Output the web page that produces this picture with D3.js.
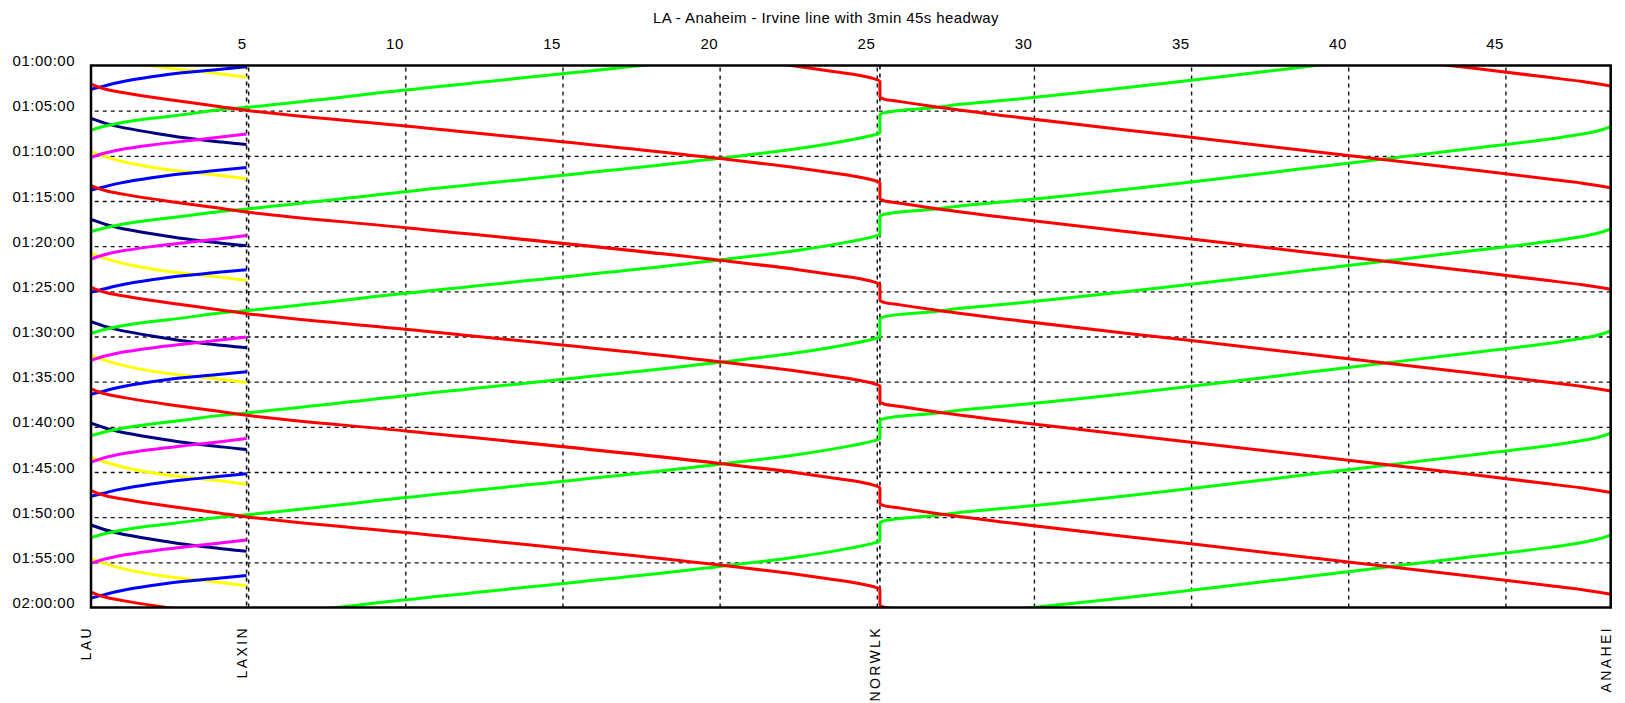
<!DOCTYPE html>
<html><head><meta charset="utf-8">
<script src="https://cdn.jsdelivr.net/npm/d3@7"></script>
<style>
html,body{margin:0;padding:0;background:#fff;}
svg{display:block;font-family:"Liberation Sans",Arial,sans-serif;}
</style></head><body>
<svg id="chart" width="1625" height="703"></svg>
<script>
// ---------------- data ----------------
const chartTitle = "LA - Anaheim - Irvine line with 3min 45s headway";
const stationNames = ["LAU", "LAXIN", "NORWLK", "ANAHEI"];
const stationKm = [0, 4.95, 25.1, 48.35];
const kmTicks = [5, 10, 15, 20, 25, 30, 35, 40, 45];
const timeTickLabels = ["01:00:00","01:05:00","01:10:00","01:15:00","01:20:00","01:25:00",
  "01:30:00","01:35:00","01:40:00","01:45:00","01:50:00","01:55:00","02:00:00"];

// Red: LAU -> ANAHEI (km, minutes after LAU departure)
const redKm  = [0, 0.5, 1.2, 2.5, 4.0, 4.95, 10, 20, 22.5, 23.5, 24.2, 24.9, 25.1, 25.1, 25.25, 25.75, 26.8, 28.9, 35, 40, 44.2, 46.3, 47.4, 48.35];
const redMin = [0, 0.6, 1.05, 1.75, 2.45, 2.92, 4.65, 8.25, 9.3, 9.8, 10.15, 10.65, 10.95, 12.65, 12.95, 13.2, 13.75, 14.7, 17.15, 19.16, 20.85, 21.73, 22.2, 22.73];
const redStarts = [-20.45, -9.2, 2.05, 13.3, 24.55, 35.8, 47.05, 58.3];   // minutes after 01:00 at LAU

// Green: ANAHEI -> LAU (km, minutes after ANAHEI departure)
const greenKm  = [48.35, 47.9, 47.4, 46.3, 44.95, 44.2, 40, 29, 27.6, 26.8, 25.75, 25.25, 25.1, 25.1, 24.9, 24.15, 22.56, 20, 10, 4.95, 4.05, 3.0, 1.93, 0.87, 0];
const greenMin = [0, 0.5, 0.85, 1.42, 2.0, 2.3, 4.05, 8.35, 8.8, 9.15, 9.45, 9.7, 9.96, 11.95, 12.17, 12.73, 13.65, 14.76, 18.45, 20.36, 20.66, 21.14, 21.58, 22.13, 22.87];
const greenStarts = [-15.73, -4.48, 6.77, 18.1, 29.38, 40.7, 51.98];      // minutes after 01:00 at ANAHEI

// Short services between LAU and LAXIN
const blueKm  = [4.95, 4.05, 2.99, 1.93, 0.87, 0.4, 0];
const blueMin = [0, 0.3, 0.65, 1.12, 1.75, 2.15, 2.5];
const blueStarts = [0.13, 11.3, 22.6, 33.9, 45.2, 56.45];                  // at LAXIN

const navyKm  = [0, 0.87, 1.93, 2.99, 4.05, 4.7, 4.95];
const navyMin = [0, 0.92, 1.58, 2.14, 2.58, 2.82, 2.9];
const navyStarts = [5.85, 17.05, 28.35, 39.6, 50.87];                      // at LAU

const magentaKm  = [4.95, 4.05, 2.99, 1.93, 0.87, 0];
const magentaMin = [0, 0.37, 0.78, 1.22, 1.77, 2.59];
const magentaStarts = [7.58, 18.83, 30.05, 41.3, 52.52];                   // at LAXIN

const yellowKm  = [0, 0.45, 1.4, 2.46, 4.05, 4.95];
const yellowMin = [0, 0.55, 1.4, 2.0, 2.6, 3.0];
const yellowStarts = [-1.71, 9.54, 20.8, 32.1, 43.35, 54.6];               // at LAU

const services = [
  {name: "yellow",  color: "#FFFF00", km: yellowKm,  min: yellowMin,  starts: yellowStarts},
  {name: "navy",    color: "#000080", km: navyKm,    min: navyMin,    starts: navyStarts},
  {name: "blue",    color: "#0000FF", km: blueKm,    min: blueMin,    starts: blueStarts},
  {name: "magenta", color: "#FF00FF", km: magentaKm, min: magentaMin, starts: magentaStarts},
  {name: "green",   color: "#00FF00", km: greenKm,   min: greenMin,   starts: greenStarts},
  {name: "red",     color: "#FF0000", km: redKm,     min: redMin,     starts: redStarts}
];

// ---------------- chart ----------------
const svg = d3.select("#chart");
const plot = {left: 91, right: 1610.7, top: 65.5, bottom: 607.5};

const parseT = s => { const p = s.split(":").map(Number); return (p[0] - 1) * 60 + p[1] + p[2] / 60; };
const timeTickVals = timeTickLabels.map(parseT);

const x = d3.scaleLinear().domain([0, stationKm[stationKm.length - 1]]).range([plot.left, plot.right]);
const y = d3.scaleLinear().domain([0, 60]).range([plot.top, plot.bottom]);

svg.append("rect").attr("width", 1625).attr("height", 703).attr("fill", "#fff");

// title
svg.append("text").attr("x", 826).attr("y", 23).attr("text-anchor", "middle")
  .style("font-size", "15px").style("letter-spacing", "0.4px").text(chartTitle);

// grid (vertical) via axis
const gridV = svg.append("g").attr("transform", `translate(0,${plot.bottom})`)
  .call(d3.axisTop(x).tickValues(kmTicks).tickSize(plot.bottom - plot.top).tickFormat(""));
gridV.select(".domain").remove();
gridV.selectAll("line").attr("stroke", "#111").attr("stroke-width", 1.4).attr("stroke-dasharray", "4,4");

// grid (horizontal) via axis
const gridH = svg.append("g").attr("transform", `translate(${plot.right},0)`)
  .call(d3.axisLeft(y).tickValues(timeTickVals.slice(1, -1)).tickSize(plot.right - plot.left).tickFormat(""));
gridH.select(".domain").remove();
gridH.selectAll("line").attr("stroke", "#111").attr("stroke-width", 1.4).attr("stroke-dasharray", "4,4");

// station lines
svg.append("g").selectAll("line").data(stationKm.slice(1, -1)).join("line")
  .attr("x1", d => x(d)).attr("x2", d => x(d)).attr("y1", plot.top).attr("y2", plot.bottom)
  .attr("stroke", "#111").attr("stroke-width", 1.6).attr("stroke-dasharray", "4,4");

// top axis labels
const topAxis = svg.append("g").attr("transform", `translate(0,${plot.top})`)
  .call(d3.axisTop(x).tickValues(kmTicks).tickSize(0).tickPadding(17));
topAxis.select(".domain").remove();
topAxis.selectAll("text").attr("text-anchor", "end").attr("dx", -2)
  .style("font-size", "15px").style("letter-spacing", "0.5px").attr("fill", "#000");

// left axis labels
const leftAxis = svg.append("g").attr("transform", `translate(${plot.left},0)`)
  .call(d3.axisLeft(y).tickValues(timeTickVals).tickSize(0).tickPadding(16)
    .tickFormat((d, i) => timeTickLabels[i]));
leftAxis.select(".domain").remove();
leftAxis.selectAll("text").attr("dy", "0").style("font-size", "15px")
  .style("letter-spacing", "0.5px").attr("fill", "#000");

// station labels
svg.append("g").selectAll("text").data(stationNames).join("text")
  .attr("transform", (d, i) => `translate(${x(stationKm[i])},626) rotate(-90)`)
  .attr("text-anchor", "end").style("font-size", "14px").style("letter-spacing", "2.4px")
  .text(d => d);

// trains
svg.append("clipPath").attr("id", "clip").append("rect")
  .attr("x", plot.left).attr("y", plot.top)
  .attr("width", plot.right - plot.left).attr("height", plot.bottom - plot.top);

const line = d3.line().x(d => x(d[0])).y(d => y(d[1])).curve(d3.curveMonotoneY);
const trainsG = svg.append("g").attr("clip-path", "url(#clip)");
services.forEach(s => {
  const paths = s.starts.map(t0 => s.km.map((k, i) => [k, t0 + s.min[i]]));
  trainsG.append("g").selectAll("path").data(paths).join("path")
    .attr("d", line).attr("fill", "none").attr("stroke", s.color)
    .attr("stroke-width", 3).attr("stroke-linejoin", "round");
});

// frame
svg.append("rect").attr("x", plot.left).attr("y", plot.top)
  .attr("width", plot.right - plot.left).attr("height", plot.bottom - plot.top)
  .attr("fill", "none").attr("stroke", "#000").attr("stroke-width", 2.5);
</script>
</body></html>
